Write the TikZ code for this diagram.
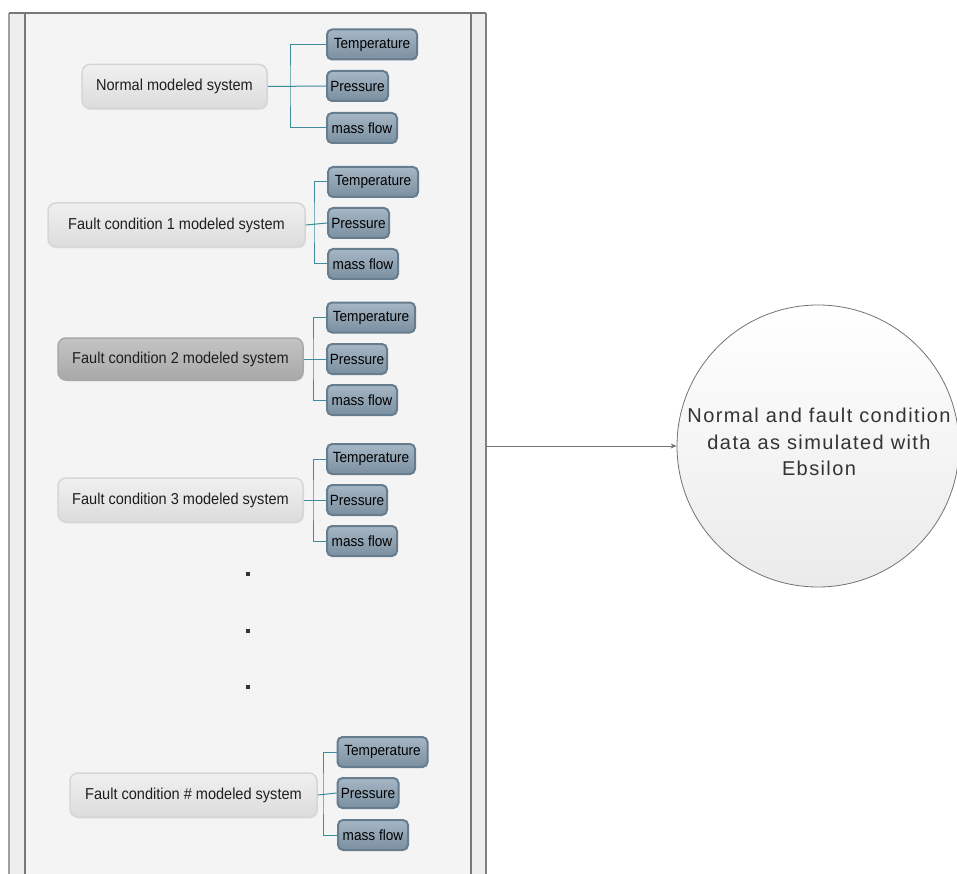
\documentclass[tikz,border=0pt]{standalone}
\usepackage{fontspec}
\setmainfont{Liberation Sans}
\newfontfamily\boxfont[FakeStretch=0.92]{Liberation Sans}
\newfontfamily\circfont[LetterSpace=7]{Liberation Sans}
\usetikzlibrary{shadows,arrows.meta}
\definecolor{lanebg}{RGB}{244,244,244}
\definecolor{stripbg}{RGB}{238,238,238}
\definecolor{laneline}{RGB}{120,120,120}
\definecolor{lanelight}{RGB}{160,160,160}
\definecolor{conncol}{RGB}{60,140,155}
\definecolor{childdraw}{RGB}{102,124,143}
\definecolor{childtop}{RGB}{166,183,197}
\definecolor{childbot}{RGB}{122,143,160}
\definecolor{maintop}{RGB}{240,240,240}
\definecolor{mainbot}{RGB}{220,220,220}
\definecolor{maindraw}{RGB}{214,214,214}
\definecolor{darktop}{RGB}{196,196,196}
\definecolor{darkbot}{RGB}{168,168,168}
\definecolor{txt}{RGB}{30,30,30}
\tikzset{
  mainbox/.style={rounded corners=8pt, draw=maindraw, line width=1.5pt,
    top color=maintop, bottom color=mainbot, minimum height=44pt,
    font=\boxfont\fontsize{15.8}{18}\selectfont, text=txt, inner sep=0pt,
    drop shadow={opacity=0.15, shadow xshift=1pt, shadow yshift=-1.5pt}},
  darkbox/.style={mainbox, top color=darktop, bottom color=darkbot, draw=darkbot},
  childbox/.style={rounded corners=5pt, draw=childdraw, line width=2pt,
    top color=childtop, bottom color=childbot, minimum height=30pt,
    font=\boxfont\fontsize{14.8}{17}\selectfont, text=black, inner sep=0pt},
  conn/.style={draw=conncol, line width=1pt},
  dotmark/.style={fill=black!80, minimum size=4pt, inner sep=0pt},
  bigcirc/.style={circle, draw=black!55, line width=0.8pt, minimum size=282pt,
    inner sep=0pt, top color=white, bottom color=black!8},
  arrowline/.style={draw=black!55, line width=0.8pt, -{Stealth[length=6pt,width=5pt]}},
}
\begin{document}
\begin{tikzpicture}[x=1pt,y=-1pt]
\useasboundingbox (0,0) rectangle (957,874);
% lane
\fill[lanebg] (9,13) rectangle (486,880);
\fill[stripbg] (9,13) rectangle (25,880);
\fill[stripbg] (471,13) rectangle (486,880);
\draw[lanelight, line width=1.2pt] (9,880) -- (9,13);
\draw[laneline, line width=1.2pt] (9,13) -- (486,13);
\draw[laneline, line width=1.5pt] (25,13) -- (25,880);
\draw[laneline, line width=1.5pt] (471,13) -- (471,880);
\draw[lanelight!80!black, line width=1.2pt] (486,13) -- (486,880);

% group 1
\node[mainbox, minimum width=185pt] (m1) at (174.5,86.5) {Normal modeled system};
\node[childbox, minimum width=90pt] (t1) at (372,44.5) {Temperature};
\node[childbox, minimum width=61pt] (p1) at (357.5,86) {Pressure};
\node[childbox, minimum width=70pt] (f1) at (362,128) {mass flow};
\coordinate (v1) at (290,86);
\draw[conn] (m1.east) -- (p1.west);
\draw[conn] (t1.west) -| (v1) |- (f1.west);

% group 2
\node[mainbox, minimum width=257pt] (m2) at (176.5,225) {Fault condition 1 modeled system};
\node[childbox, minimum width=90pt] (t2) at (373,182) {Temperature};
\node[childbox, minimum width=61pt] (p2) at (358.5,223) {Pressure};
\node[childbox, minimum width=70pt] (f2) at (363,264) {mass flow};
\coordinate (v2) at (314,223);
\draw[conn] (m2.east) -- (p2.west);
\draw[conn] (t2.west) -| (v2) |- (f2.west);

% group 3
\node[darkbox, minimum width=245pt, minimum height=42pt] (m3) at (180.5,359) {Fault condition 2 modeled system};
\node[childbox, minimum width=88pt] (t3) at (371,317.5) {Temperature};
\node[childbox, minimum width=60pt] (p3) at (357,359) {Pressure};
\node[childbox, minimum width=70pt] (f3) at (362,400) {mass flow};
\coordinate (v3) at (313,359);
\draw[conn] (m3.east) -- (p3.west);
\draw[conn] (t3.west) -| (v3) |- (f3.west);

% group 4
\node[mainbox, minimum width=245pt] (m4) at (180.5,500) {Fault condition 3 modeled system};
\node[childbox, minimum width=88pt] (t4) at (371,459) {Temperature};
\node[childbox, minimum width=60pt] (p4) at (357,500) {Pressure};
\node[childbox, minimum width=70pt] (f4) at (362,541) {mass flow};
\coordinate (v4) at (313,500);
\draw[conn] (m4.east) -- (p4.west);
\draw[conn] (t4.west) -| (v4) |- (f4.west);

% dots
\node[dotmark] (d1) at (248,574) {};
\node[dotmark] (d2) at (248,631) {};
\node[dotmark] (d3) at (248,687) {};

% group 5
\node[mainbox, minimum width=247pt] (m5) at (193.5,795) {Fault condition \# modeled system};
\node[childbox, minimum width=90pt] (t5) at (382.5,752) {Temperature};
\node[childbox, minimum width=61pt] (p5) at (368,793) {Pressure};
\node[childbox, minimum width=70pt] (f5) at (373,835) {mass flow};
\coordinate (v5) at (323,793);
\draw[conn] (m5.east) -- (p5.west);
\draw[conn] (t5.west) -| (v5) |- (f5.west);

% circle
\node[bigcirc] (c) at (818,446) {};
\node[font=\circfont\fontsize{20}{26.5}\selectfont, text=black!80, align=center]
  (ct) at (819,442) {Normal and fault condition\\data as simulated with\\Ebsilon};
\coordinate (laneR) at (486,446);
\draw[arrowline] (laneR) -- (c.west);
\end{tikzpicture}
\end{document}
